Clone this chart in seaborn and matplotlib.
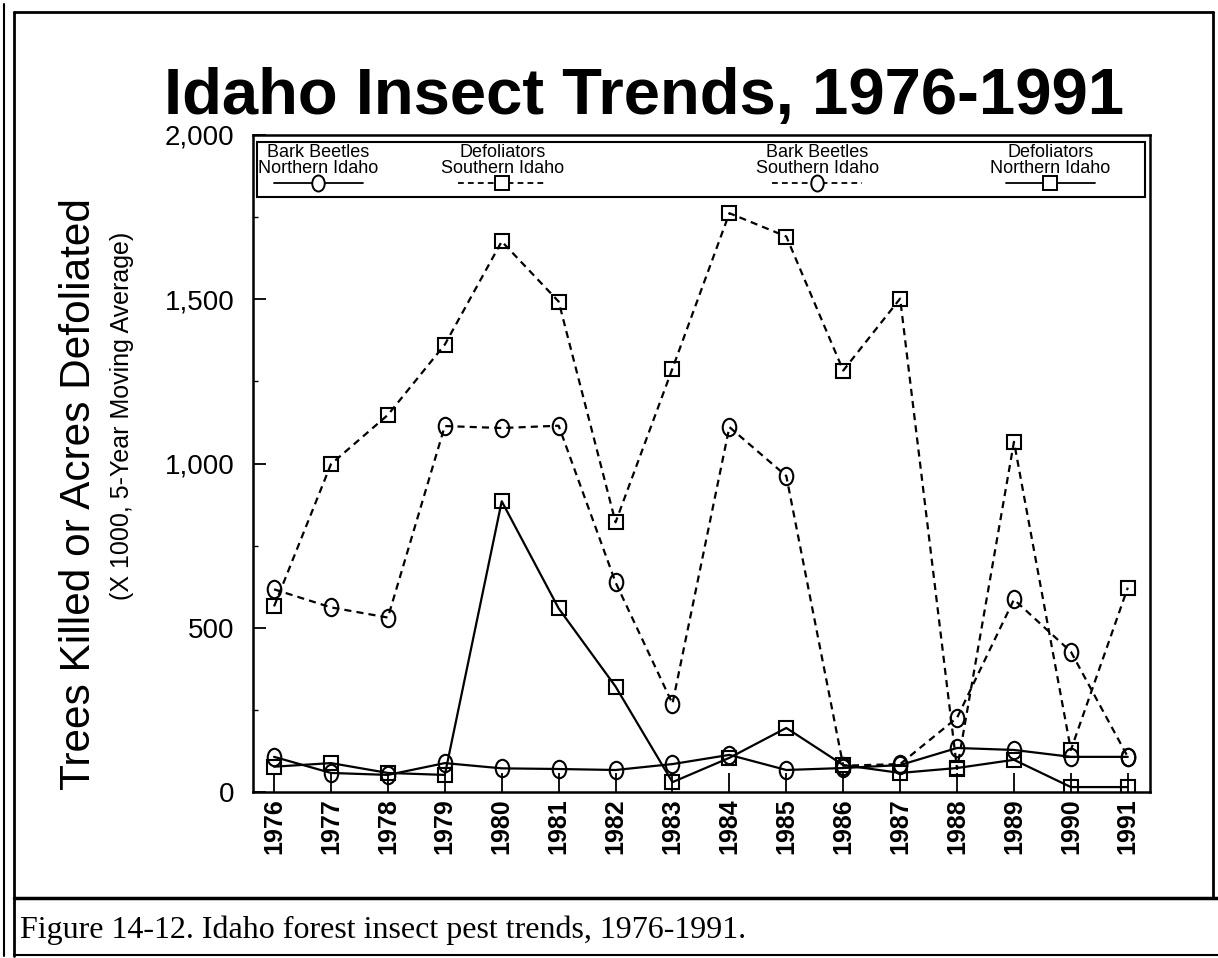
import numpy as np
import pandas as pd
import matplotlib.pyplot as plt
import seaborn as sns
from matplotlib.lines import Line2D
from matplotlib.patches import Rectangle
from matplotlib.path import Path
from matplotlib.transforms import Affine2D
from matplotlib.ticker import FuncFormatter, MultipleLocator

# Datos (miles, media movil de 5 anios)
anios = list(range(1976, 1992))
bb_norte = [107, 58, 52, 88, 72, 70, 67, 85, 113, 67, 73, 82, 134, 128, 107, 107]
def_sur = [565, 998, 1148, 1362, 1676, 1493, 821, 1289, 1762, 1691, 1283, 1502, 70, 1066, 128, 622]
bb_sur = [617, 562, 531, 1114, 1108, 1115, 638, 269, 1111, 962, 80, 85, 226, 586, 427, 107]
def_norte = [77, 88, 58, 52, 885, 559, 321, 30, 104, 195, 82, 58, 73, 98, 15, 15]

etiquetas = ['Bark Beetles\nNorthern Idaho', 'Defoliators\nSouthern Idaho',
             'Bark Beetles\nSouthern Idaho', 'Defoliators\nNorthern Idaho']

sns.set_style('white')
plt.rcParams['font.family'] = ['Liberation Sans', 'DejaVu Sans']
plt.rcParams['text.color'] = 'black'
plt.rcParams['xtick.color'] = 'black'
plt.rcParams['ytick.color'] = 'black'

W, H = 1218, 958
fig = plt.figure(figsize=(W / 100, H / 100), dpi=100)
ax = fig.add_axes([253 / W, 1 - 792 / H, (1150 - 253) / W, (792 - 135) / H])

elipse = Path.unit_circle().transformed(Affine2D().scale(0.78, 1.0))
guion = (0, (3.2, 2.3))

series = [
    (bb_norte, '-', elipse, 12.5),
    (def_sur, guion, 's', 10.5),
    (bb_sur, guion, elipse, 12.5),
    (def_norte, '-', 's', 10.5),
]

for valores, ls, marca, tam in series:
    sns.lineplot(x=anios, y=valores, ax=ax, color='black', linestyle=ls,
                 linewidth=1.6, marker=marca, markersize=tam,
                 markerfacecolor='none', markeredgecolor='black',
                 markeredgewidth=1.5, errorbar=None, legend=False)

ax.set_xlim(1975.63, 1991.39)
ax.set_ylim(0, 2000)
ax.set_xticks(anios)
ax.set_xticklabels([str(a) for a in anios], rotation=90, fontsize=18, fontweight='bold')
ax.yaxis.set_major_locator(MultipleLocator(500))
ax.yaxis.set_minor_locator(MultipleLocator(250))
ax.yaxis.set_major_formatter(FuncFormatter(lambda v, p: f'{int(v):,}'))
ax.tick_params(axis='y', which='major', direction='in', length=9.5, width=1.3,
               labelsize=20, pad=13.5, left=True)
ax.tick_params(axis='y', which='minor', direction='in', length=3.5, width=1.0, left=True)
ax.tick_params(axis='x', direction='in', length=14, width=1.3, pad=4.5, bottom=True)
ax.set_xlabel('')
ax.set_ylabel('')
for s in ax.spines.values():
    s.set_color('black')
    s.set_linewidth(1.8)

# Leyenda: caja con texto arriba y muestra de linea abajo
ax.add_patch(Rectangle((0.004, (792 - 197) / 657), 0.99, (197 - 142) / 657,
                       transform=ax.transAxes, fill=False, edgecolor='black',
                       linewidth=1.5, zorder=5))
centros = [0.073, 0.278, 0.629, 0.889]
for (valores, ls, marca, tam), etiqueta, cx in zip(series, etiquetas, centros):
    ax.text(cx, (792 - 144) / 657, etiqueta, transform=ax.transAxes, ha='center',
            va='top', fontsize=13, linespacing=0.9, zorder=6)
    yl = (792 - 183) / 657
    ax.plot([cx - 0.05, cx, cx + 0.05], [yl, yl, yl], transform=ax.transAxes,
            color='black', linestyle=ls, linewidth=1.3, marker=marca, markersize=tam - 1,
            markevery=[1], markerfacecolor='white', markeredgecolor='black',
            markeredgewidth=1.4, zorder=6, clip_on=False)

# Titulo y etiquetas del eje
fig.text(644 / W, 1 - 114 / H, 'Idaho Insect Trends, 1976-1991',
         fontweight='bold', fontsize=47, ha='center', va='baseline')
fig.text(79 / W, 1 - 198 / H, 'Trees Killed or Acres Defoliated', rotation=90,
         fontsize=30.5, ha='center', va='top')
fig.text(122 / W, 1 - 232 / H, '(X 1000, 5-Year Moving Average)', rotation=90,
         fontsize=18, ha='center', va='top')

# Pie de figura
fig.text(20 / W, 1 - 930 / H, 'Figure 14-12. Idaho forest insect pest trends, 1976-1991.',
         family=['Liberation Serif', 'DejaVu Serif'], fontsize=23, ha='left', va='center')

# Marcos exteriores
def linea(x0, y0, x1, y1, lw=2.0):
    fig.add_artist(Line2D([x0 / W, x1 / W], [1 - y0 / H, 1 - y1 / H],
                          transform=fig.transFigure, color='black', linewidth=lw))

linea(14, 12, 1213, 12)
linea(14, 12, 14, 956)
linea(4, 4, 4, 956, 1.5)
linea(1213, 12, 1213, 898)
linea(14, 898, 1218, 898, 2.5)
linea(14, 955, 1218, 955, 1.5)

plt.savefig('out.png', dpi=100)
plt.close()
